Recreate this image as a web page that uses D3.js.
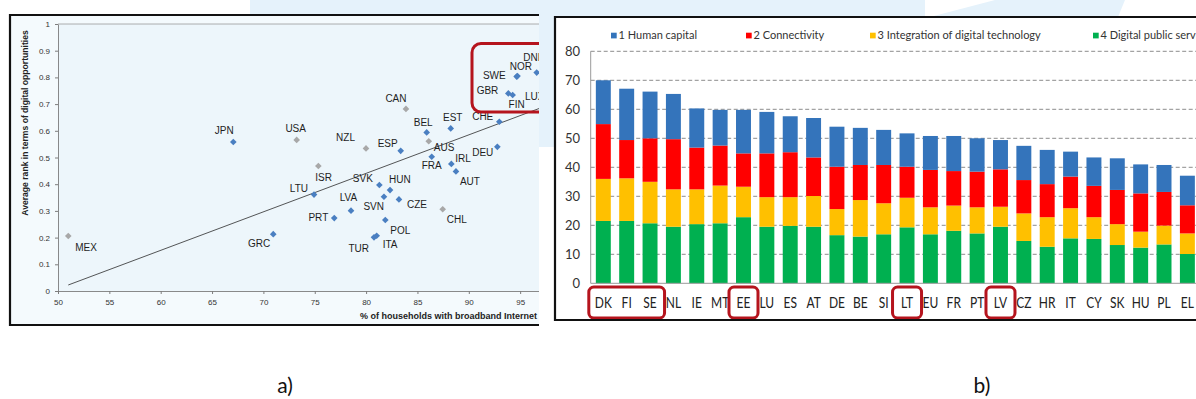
<!DOCTYPE html>
<html>
<head>
<meta charset="utf-8">
<script src="https://cdn.jsdelivr.net/npm/d3@7"></script>
<style>
  html, body { margin: 0; padding: 0; background: #ffffff; }
  svg { display: block; }
</style>
</head>
<body>
<svg id="fig" width="1196" height="399"></svg>
<script>
// ---------- Panel a: broadband access vs digital opportunities ----------
const countries = ["MEX","JPN","USA","GRC","ISR","LTU","PRT","LVA","NZL","SVK","HUN","SVN","CZE","POL","TUR","ITA",
                   "CAN","ESP","BEL","AUS","FRA","EST","IRL","AUT","CHL","DEU","CHE","SWE","NOR","DNK","GBR","FIN","LUX"];
const broadbandShare = [51.0, 67.07, 73.24, 70.96, 75.35, 74.93, 76.90, 78.53, 79.99, 81.29, 82.33, 81.74, 83.20, 81.87, 80.77, 81.03,
                        83.88, 83.37, 85.90, 86.10, 86.39, 88.24, 88.30, 88.75, 87.46, 92.78, 92.97, 94.66, 94.74, 96.61, 93.85, 94.27, 97.13];
const opportunityRank = [0.206, 0.558, 0.566, 0.213, 0.468, 0.361, 0.273, 0.301, 0.534, 0.397, 0.378, 0.353, 0.343, 0.266, 0.201, 0.207,
                         0.682, 0.525, 0.594, 0.561, 0.503, 0.609, 0.476, 0.448, 0.306, 0.540, 0.634, 0.803, 0.805, 0.818, 0.740, 0.734, 0.742];
const greyCountries = ["MEX","USA","ISR","NZL","CAN","AUS","CHL"];
const trendBroadband = [51, 100];
const trendRank = [0.0225, 0.729];
const xTicksA = [50, 55, 60, 65, 70, 75, 80, 85, 90, 95, 100];
const yTicksA = [0, 0.1, 0.2, 0.3, 0.4, 0.5, 0.6, 0.7, 0.8, 0.9, 1];

// ---------- Panel b: DESI dimensions by member state ----------
const members = ["DK","FI","SE","NL","IE","MT","EE","LU","ES","AT","DE","BE","SI","LT","EU","FR","PT","LV","CZ","HR","IT","CY","SK","HU","PL","EL"];
const humanCapital   = [15.1, 17.7, 16.1, 15.6, 13.5, 12.3, 15.0, 14.3, 12.4, 13.6, 13.8, 12.8, 12.1, 11.5, 11.7, 12.1, 11.5, 10.1, 11.8, 11.8, 8.6, 9.8, 10.9, 10.0, 9.3, 10.2];
const connectivity   = [18.9, 13.2, 15.0, 17.3, 14.4, 13.8, 11.5, 15.1, 15.5, 13.3, 14.6, 12.1, 13.2, 10.7, 12.9, 11.9, 12.3, 12.9, 11.5, 11.4, 10.9, 10.8, 11.8, 13.2, 11.6, 9.7];
const integration    = [14.5, 14.7, 14.3, 12.9, 12.0, 13.0, 10.5, 10.2, 9.9, 10.6, 9.0, 12.6, 10.7, 10.2, 9.3, 8.7, 9.0, 6.9, 9.5, 10.2, 10.4, 7.5, 7.2, 5.5, 6.5, 7.1];
const publicServices = [21.5, 21.5, 20.7, 19.5, 20.4, 20.7, 22.8, 19.5, 19.8, 19.5, 16.6, 16.1, 16.9, 19.3, 16.9, 18.1, 17.2, 19.5, 14.6, 12.6, 15.5, 15.3, 13.2, 12.3, 13.4, 10.1];
const dimensionLabels = ["1 Human capital", "2 Connectivity", "3 Integration of digital technology", "4 Digital public services"];
const highlightedGroups = [["DK","SE"], ["EE","EE"], ["LT","LT"], ["LV","LV"]];
const yTicksB = [0, 10, 20, 30, 40, 50, 60, 70, 80];

// ---------- drawing ----------
const svg = d3.select("#fig");
const backdrop = "#e5f2fb";
const frameRed = "#b5141d";

// soft backdrop shapes behind the two panels
svg.append("rect").attr("x", 250).attr("y", 0).attr("width", 675).attr("height", 147).attr("fill", backdrop);
svg.append("polygon").attr("points", "930,17 995,0 1125,0 1118,17").attr("fill", backdrop);

// ===== Panel a =====
const defs = svg.append("defs");
defs.append("clipPath").attr("id", "clipA")
  .append("rect").attr("x", 11).attr("y", 16).attr("width", 528).attr("height", 308);
defs.append("clipPath").attr("id", "clipB")
  .append("rect").attr("x", 556).attr("y", 18).attr("width", 660).attr("height", 301);

const ga = svg.append("g").attr("clip-path", "url(#clipA)");
ga.append("rect").attr("x", 10).attr("y", 15).attr("width", 540).attr("height", 310).attr("fill", "#f4fafd");

const xA = d3.scaleLinear().domain([50, 100]).range([58, 571.5]);
const yA = d3.scaleLinear().domain([0, 1]).range([291, 24]);

ga.append("rect")
  .attr("x", xA(50)).attr("y", yA(1))
  .attr("width", xA(100) - xA(50)).attr("height", yA(0) - yA(1))
  .attr("fill", "#edf6fb");
ga.append("line")
  .attr("x1", xA(50)).attr("x2", xA(100)).attr("y1", yA(1)).attr("y2", yA(1))
  .attr("stroke", "#9a9a9a").attr("stroke-width", 0.8);

const axisFontA = "'Liberation Sans', Arial, sans-serif";
const xAxisA = ga.append("g").attr("transform", `translate(0,${yA(0)})`)
  .call(d3.axisBottom(xA).tickValues(xTicksA).tickSize(3).tickSizeOuter(0).tickPadding(5).tickFormat(d3.format("d")));
const yAxisA = ga.append("g").attr("transform", `translate(${xA(50)},0)`)
  .call(d3.axisLeft(yA).tickValues(yTicksA).tickSize(3).tickSizeOuter(0).tickPadding(5)
    .tickFormat(d => (d === 0 || d === 1) ? String(d) : d3.format(".1f")(d)));
[xAxisA, yAxisA].forEach(ax => {
  ax.select(".domain").attr("stroke", "#7d7d7d").attr("stroke-width", 0.9);
  ax.selectAll(".tick line").attr("stroke", "#7d7d7d");
  ax.selectAll(".tick text").attr("font-family", axisFontA).attr("font-size", 8).attr("fill", "#333");
});

// trend line
ga.append("path")
  .datum(trendBroadband.map((x, i) => [x, trendRank[i]]))
  .attr("d", d3.line().x(d => xA(d[0])).y(d => yA(d[1])))
  .attr("stroke", "#2b2b2b").attr("stroke-width", 0.8).attr("fill", "none");

// country markers
const pointsA = countries.map((c, i) => ({ code: c, x: broadbandShare[i], y: opportunityRank[i], grey: greyCountries.includes(c) }));
const diamond = d3.symbol().type(d3.symbolSquare).size(22);
ga.append("g").selectAll("path").data(pointsA).join("path")
  .attr("d", diamond)
  .attr("transform", d => `translate(${xA(d.x)},${yA(d.y)}) rotate(45)`)
  .attr("fill", d => d.grey ? "#a8a8a8" : "#4a7fc1");

// country labels: [dx, dy to text centre, anchor]
const labelOffsets = {
  MEX: [7, 11, "start"], JPN: [-9, -11.5, "middle"], USA: [-1, -11, "middle"], GRC: [-3, 9, "end"],
  ISR: [-3, 11, "start"], LTU: [-6, -6.5, "end"], PRT: [-6, -1, "end"], LVA: [-2.5, -13.5, "middle"],
  NZL: [-11, -11, "end"], SVK: [-6.5, -7, "end"], HUN: [-1, -10.5, "start"], SVN: [0, 10, "end"],
  CZE: [8, 5, "start"], POL: [5, 10, "start"], TUR: [-5, 11, "end"], ITA: [6, 8.5, "start"],
  CAN: [-10, -10.5, "middle"], ESP: [-3, -7.5, "end"], BEL: [-3.5, -10, "middle"], AUS: [5, 6, "start"],
  FRA: [0, 9, "middle"], EST: [2, -10.5, "middle"], IRL: [4, -6, "start"], AUT: [4, 10.5, "start"],
  CHL: [4, 10.5, "start"], DEU: [-4, 5.5, "end"], CHE: [-6, -5, "end"], SWE: [-11, -1, "end"],
  NOR: [3.5, -10, "middle"], DNK: [-13.4, -15.4, "start"], GBR: [-10, -3, "end"], FIN: [4, 9.5, "middle"],
  LUX: [-17, 4, "start"]
};
ga.append("g").selectAll("text").data(pointsA).join("text")
  .attr("x", d => xA(d.x) + labelOffsets[d.code][0])
  .attr("y", d => yA(d.y) + labelOffsets[d.code][1] + 3.6)
  .attr("text-anchor", d => labelOffsets[d.code][2])
  .attr("font-family", axisFontA).attr("font-size", 10).attr("fill", "#1e1e1e")
  .text(d => d.code);

// highlight around the Nordic cluster
ga.append("rect")
  .attr("x", 472).attr("y", 43.5).attr("width", 110).attr("height", 68.5).attr("rx", 9)
  .attr("fill", "none").attr("stroke", frameRed).attr("stroke-width", 3);

// axis titles
ga.append("text")
  .attr("transform", "translate(28,123) rotate(-90)")
  .attr("text-anchor", "middle")
  .attr("font-family", axisFontA).attr("font-size", 8.6).attr("font-weight", "bold").attr("fill", "#222")
  .text("Average rank in terms of digital opportunities");
ga.append("text")
  .attr("x", 537).attr("y", 319)
  .attr("text-anchor", "end")
  .attr("font-family", axisFontA).attr("font-size", 9).attr("font-weight", "bold").attr("fill", "#222")
  .text("% of households with broadband Internet");

// panel a frame (open on the right)
svg.append("path")
  .attr("d", "M539,15 H10 V325 H539")
  .attr("fill", "none").attr("stroke", "#111").attr("stroke-width", 2.2);

// ===== Panel b =====
const gb = svg.append("g").attr("clip-path", "url(#clipB)");
gb.append("rect").attr("x", 555).attr("y", 17).attr("width", 660).attr("height", 303).attr("fill", "#ffffff");

const xB = d3.scaleBand().domain(members).range([590.7, 1200]).paddingInner(0.36).paddingOuter(0.22);
const yB = d3.scaleLinear().domain([0, 80]).range([283.3, 51.3]);
const fontB = "Lato, 'Open Sans', sans-serif";

// dashed gridlines
gb.append("g").selectAll("line").data(yTicksB.filter(v => v > 0)).join("line")
  .attr("x1", 590.7).attr("x2", 1210)
  .attr("y1", d => yB(d)).attr("y2", d => yB(d))
  .attr("stroke", "#8c8c8c").attr("stroke-width", 1).attr("stroke-dasharray", "4,2.5");

// stacked bars (public services at the base, human capital on top)
const rowsB = members.map((m, i) => ({
  member: m, hum: humanCapital[i], con: connectivity[i], int: integration[i], pub: publicServices[i]
}));
const stackKeys = ["pub", "int", "con", "hum"];
const colorB = { hum: "#3474bb", con: "#ff0000", int: "#ffc000", pub: "#00b050" };
const stacked = d3.stack().keys(stackKeys)(rowsB);
gb.append("g").selectAll("g").data(stacked).join("g")
  .attr("fill", s => colorB[s.key])
  .selectAll("rect").data(s => s).join("rect")
  .attr("x", d => xB(d.data.member))
  .attr("width", xB.bandwidth())
  .attr("y", d => yB(d[1]))
  .attr("height", d => yB(d[0]) - yB(d[1]));

// axes lines
gb.append("line").attr("x1", 590.7).attr("x2", 1210).attr("y1", yB(0)).attr("y2", yB(0))
  .attr("stroke", "#9a9a9a").attr("stroke-width", 1);
gb.append("line").attr("x1", 590.7).attr("x2", 590.7).attr("y1", yB(80)).attr("y2", yB(0))
  .attr("stroke", "#9a9a9a").attr("stroke-width", 1);

// y tick labels
gb.append("g").selectAll("text").data(yTicksB).join("text")
  .attr("x", 580).attr("y", d => yB(d) + 4.6)
  .attr("text-anchor", "end")
  .attr("font-family", fontB).attr("font-size", 13).attr("fill", "#333")
  .text(d => d);

// category labels
gb.append("g").selectAll("text").data(members).join("text")
  .attr("transform", d => `translate(${xB(d) + xB.bandwidth() / 2},308.3) scale(0.8,1)`)
  .attr("text-anchor", "middle")
  .attr("font-family", fontB).attr("font-size", 15).attr("fill", "#222")
  .text(d => d);

// highlight boxes around selected member states
gb.append("g").selectAll("rect").data(highlightedGroups).join("rect")
  .attr("x", g => xB(g[0]) + xB.bandwidth() / 2 - 14.5)
  .attr("width", g => xB(g[1]) - xB(g[0]) + 29)
  .attr("y", 287).attr("height", 31).attr("rx", 5)
  .attr("fill", "none").attr("stroke", frameRed).attr("stroke-width", 3);

// legend
const legendX = [611, 746, 870, 1093];
const legendColors = [colorB.hum, colorB.con, colorB.int, colorB.pub];
const legend = gb.append("g").selectAll("g").data(dimensionLabels).join("g")
  .attr("transform", (d, i) => `translate(${legendX[i]},0)`);
legend.append("rect").attr("x", 0).attr("y", 32.7).attr("width", 5.7).attr("height", 5.7)
  .attr("fill", (d, i) => legendColors[i]);
legend.append("text").attr("x", 7.5).attr("y", 38.5)
  .attr("font-family", fontB).attr("font-size", 11).attr("fill", "#333")
  .text(d => d);

// panel b frame (open on the right)
svg.append("path")
  .attr("d", "M1200,17 H555 V320 H1200")
  .attr("fill", "none").attr("stroke", "#111").attr("stroke-width", 2.2);

// panel captions
svg.append("text").attr("x", 285).attr("y", 393).attr("text-anchor", "middle")
  .attr("font-family", fontB).attr("font-size", 21).attr("fill", "#111").text("a)");
svg.append("text").attr("x", 982).attr("y", 393).attr("text-anchor", "middle")
  .attr("font-family", fontB).attr("font-size", 21).attr("fill", "#111").text("b)");
</script>
</body>
</html>
